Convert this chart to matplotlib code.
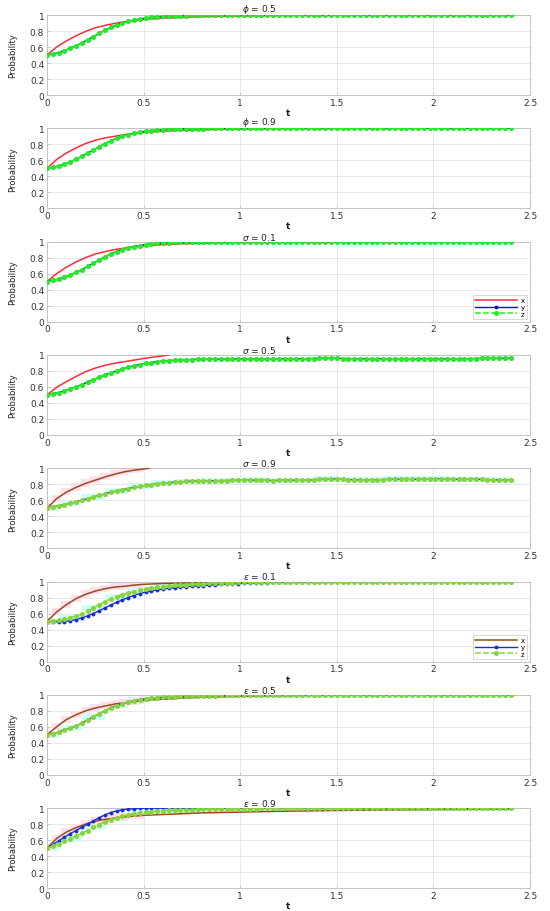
import numpy as np
import matplotlib
matplotlib.use("Agg")
import matplotlib.pyplot as plt

plt.rcParams['font.family'] = ['DejaVu Sans']

# ---------------- data ----------------
titles = [r'$\phi$ = 0.5', r'$\phi$ = 0.9', r'$\sigma$ = 0.1', r'$\sigma$ = 0.5',
          r'$\sigma$ = 0.9', r'$\varepsilon$ = 0.1', r'$\varepsilon$ = 0.5', r'$\varepsilon$ = 0.9']
xticks = [0, 0.5, 1, 1.5, 2, 2.5]
xticklabels = ['0', '0.5', '1', '1.5', '2', '2.5']
yticks = [0, 0.2, 0.4, 0.6, 0.8, 1]
yticklabels = ['0', '0.2', '0.4', '0.6', '0.8', '1']

# time grid of the marker series (step 0.03)
t = np.round(np.arange(81) * 0.03, 2)

# time grids of the x lines
tx_full = [0, .05, .1, .15, .2, .25, .3, .35, .4, .45, .5, .6, .7, .8, .9, 1.0,
           1.2, 1.4, 1.6, 1.8, 2.0, 2.2, 2.4]
tx_p4 = [0, .05, .1, .15, .2, .25, .3, .35, .4, .45, .5, .55, .6, .63]
tx_p5 = [0, .05, .1, .15, .2, .25, .3, .35, .4, .45, .5, .53]

x_p1 = [.5, .6, .675, .74, .795, .84, .87, .895, .915, .93, .945, .96, .97, .978, .984, .988,
        .993, .996, .998, .999, 1, 1, 1]
x_p2 = [.5, .61, .69, .755, .81, .85, .88, .9, .92, .935, .95, .965, .975, .982, .987, .99,
        .995, .997, .999, 1, 1, 1, 1]
x_p3 = [.5, .6, .68, .745, .8, .845, .875, .9, .918, .932, .947, .962, .972, .98, .985, .989,
        .994, .997, .998, .999, 1, 1, 1]
x_p4 = [.5, .595, .665, .73, .79, .835, .87, .895, .915, .935, .955, .972, .988, 1.0]
x_p5 = [.5, .62, .70, .76, .81, .85, .89, .925, .955, .975, .99, 1.0]
x_p6 = [.5, .62, .71, .785, .84, .88, .91, .93, .94, .955, .965, .975, .98, .985, .988, .99,
        .994, .997, .998, .999, 1, 1, 1]
x_p7 = [.5, .6, .69, .75, .80, .835, .86, .885, .90, .915, .93, .945, .96, .97, .975, .98,
        .988, .993, .996, .998, .999, 1, 1]
x_p8 = [.5, .62, .70, .755, .80, .835, .86, .875, .89, .90, .91, .92, .93, .94, .945, .95,
        .96, .967, .973, .978, .982, .985, .988]

z_p1 = [.500, .515, .530, .555, .585, .615, .650, .690, .730, .770,
        .810, .845, .875, .900, .920, .937, .950, .961, .970, .977,
        .982, .986, .989, .991, .993, .995, .996, .997, .998, .998,
        .999, 1, 1, 1, 1, 1, 1, 1, 1, 1,
        1, 1, 1, 1, 1, 1, 1, 1, 1, 1,
        1, 1, 1, 1, 1, 1, 1, 1, 1, 1,
        1, 1, 1, 1, 1, 1, 1, 1, 1, 1,
        1, 1, 1, 1, 1, 1, 1, 1, 1, 1, 1]
z_p2 = [.500, .513, .528, .552, .582, .613, .648, .688, .728, .768,
        .808, .843, .874, .899, .920, .937, .951, .962, .971, .978,
        .983, .987, .990, .992, .994, .995, .996, .997, .998, .999,
        .999, 1, 1, 1, 1, 1, 1, 1, 1, 1,
        1, 1, 1, 1, 1, 1, 1, 1, 1, 1,
        1, 1, 1, 1, 1, 1, 1, 1, 1, 1,
        1, 1, 1, 1, 1, 1, 1, 1, 1, 1,
        1, 1, 1, 1, 1, 1, 1, 1, 1, 1, 1]
z_p3 = [.500, .514, .530, .554, .584, .615, .650, .690, .730, .770,
        .810, .845, .876, .901, .921, .938, .951, .962, .971, .978,
        .983, .987, .990, .992, .994, .995, .996, .997, .998, .999,
        .999, 1, 1, 1, 1, 1, 1, 1, 1, 1,
        1, 1, 1, 1, 1, 1, 1, 1, 1, 1,
        1, 1, 1, 1, 1, 1, 1, 1, 1, 1,
        1, 1, 1, 1, 1, 1, 1, 1, 1, 1,
        1, 1, 1, 1, 1, 1, 1, 1, 1, 1, 1]
z_p4 = [.500, .515, .530, .550, .575, .600, .630, .660, .690, .720,
        .750, .775, .800, .825, .845, .865, .880, .895, .905, .915,
        .922, .928, .933, .937, .940, .942, .944, .945, .946, .947,
        .948, .948, .949, .950, .950, .951, .951, .950, .950, .951,
        .952, .952, .951, .950, .951, .953, .955, .957, .958, .958,
        .957, .955, .953, .952, .951, .950, .950, .951, .952, .953,
        .953, .952, .951, .951, .952, .953, .953, .952, .951, .950,
        .950, .951, .952, .953, .955, .957, .958, .958, .957, .957, .958]
z_p5 = [.500, .515, .530, .545, .560, .580, .600, .620, .640, .660,
        .680, .700, .715, .730, .745, .760, .775, .785, .795, .805,
        .812, .818, .824, .830, .834, .837, .840, .842, .843, .844,
        .845, .846, .847, .848, .849, .850, .850, .849, .847, .846,
        .848, .850, .850, .849, .848, .850, .855, .862, .866, .868,
        .866, .862, .858, .855, .853, .852, .853, .855, .858, .860,
        .862, .862, .860, .860, .862, .865, .868, .870, .868, .865,
        .862, .860, .860, .862, .862, .860, .857, .855, .853, .852, .852]
z_p6 = [.500, .505, .513, .527, .545, .567, .595, .630, .670, .710,
        .750, .780, .810, .835, .855, .875, .892, .905, .917, .928,
        .937, .945, .951, .957, .962, .966, .970, .974, .977, .980,
        .983, .985, .987, .989, .991, .992, .993, .994, .995, .996,
        .997, .997, .998, .998, .999, .999, 1, 1, 1, 1,
        1, 1, 1, 1, 1, 1, 1, 1, 1, 1,
        1, 1, 1, 1, 1, 1, 1, 1, 1, 1,
        1, 1, 1, 1, 1, 1, 1, 1, 1, 1, 1]
y_p6 = [.500, .498, .498, .500, .510, .525, .545, .570, .600, .635,
        .670, .705, .740, .770, .800, .825, .850, .868, .882, .895,
        .905, .914, .922, .929, .935, .940, .945, .950, .955, .960,
        .964, .968, .972, .975, .978, .980, .983, .985, .987, .989,
        .990, .991, .992, .993, .994, .995, .996, .997, .998, .999,
        1, 1, 1, 1, 1, 1, 1, 1, 1, 1,
        1, 1, 1, 1, 1, 1, 1, 1, 1, 1,
        1, 1, 1, 1, 1, 1, 1, 1, 1, 1, 1]
z_p7 = [.500, .515, .535, .560, .585, .610, .645, .685, .725, .765,
        .800, .835, .865, .890, .910, .925, .940, .950, .958, .964,
        .969, .973, .976, .979, .982, .984, .986, .988, .990, .991,
        .993, .994, .995, .996, .997, .998, .998, .999, .999, 1,
        1, 1, 1, 1, 1, 1, 1, 1, 1, 1,
        1, 1, 1, 1, 1, 1, 1, 1, 1, 1,
        1, 1, 1, 1, 1, 1, 1, 1, 1, 1,
        1, 1, 1, 1, 1, 1, 1, 1, 1, 1, 1]
y_p8 = [.500, .545, .590, .635, .680, .720, .760, .800, .840, .880,
        .915, .945, .965, .978, .987, .992, .996, .998, .999, 1,
        1, 1, 1, 1, 1, 1, 1, 1, 1, 1,
        1, 1, 1, 1, 1, 1, 1, 1, 1, 1,
        1, 1, 1, 1, 1, 1, 1, 1, 1, 1,
        1, 1, 1, 1, 1, 1, 1, 1, 1, 1,
        1, 1, 1, 1, 1, 1, 1, 1, 1, 1,
        1, 1, 1, 1, 1, 1, 1, 1, 1, 1, 1]
z_p8 = [.500, .525, .555, .585, .615, .650, .685, .720, .760, .795,
        .830, .855, .880, .900, .915, .930, .940, .950, .957, .963,
        .968, .972, .975, .978, .980, .982, .984, .986, .987, .988,
        .989, .990, .991, .992, .993, .994, .995, .996, .997, .998,
        .999, 1, 1, 1, 1, 1, 1, 1, 1, 1,
        1, 1, 1, 1, 1, 1, 1, 1, 1, 1,
        1, 1, 1, 1, 1, 1, 1, 1, 1, 1,
        1, 1, 1, 1, 1, 1, 1, 1, 1, 1, 1]

panels = [
    dict(tx=tx_full, x=x_p1, y=z_p1, z=z_p1, style=0, legend=False),
    dict(tx=tx_full, x=x_p2, y=z_p2, z=z_p2, style=0, legend=False),
    dict(tx=tx_full, x=x_p3, y=z_p3, z=z_p3, style=0, legend=True),
    dict(tx=tx_p4, x=x_p4, y=z_p4, z=z_p4, style=0, legend=False),
    dict(tx=tx_p5, x=x_p5, y=z_p5, z=z_p5, style=1, legend=False),
    dict(tx=tx_full, x=x_p6, y=y_p6, z=z_p6, style=1, legend=True),
    dict(tx=tx_full, x=x_p7, y=z_p7, z=z_p7, style=1, legend=False),
    dict(tx=tx_full, x=x_p8, y=y_p8, z=z_p8, style=1, legend=False),
]

colors = [
    dict(x='#ff2a3a', y='#1010ee', z='#22ee22'),
    dict(x='#9a4a22', y='#1a2ed8', z='#86d63a'),
]

# ---------------- figure ----------------
W, H = 550, 912
fig = plt.figure(figsize=(W / 100, H / 100), dpi=100)
fig.patch.set_facecolor('white')

left_px, right_px = 47, 530
top0, step, hpx = 16, 113.3, 80

for i, p in enumerate(panels):
    top = top0 + i * step
    ax = fig.add_axes([left_px / W, 1 - (top + hpx) / H, (right_px - left_px) / W, hpx / H])
    c = colors[p['style']]
    tt = t[:len(p['z'])]
    ty = t[:len(p['y'])]

    if p['style'] == 1:
        zc = np.array(p['z'])[::4]
        tc = tt[::4]
        ax.fill_between(tc, zc - 0.035, np.minimum(zc + 0.035, 1.04), step='mid',
                        color='#ccfff5', lw=0, zorder=1)
        xa = np.array(p['x'])
        txa = np.array(p['tx'])
        m = txa <= 0.5
        ax.fill_between(txa[m], xa[m] - 0.04, xa[m] + 0.05, step='mid',
                        color='#ffe0ea', lw=0, zorder=1)

    ax.plot(p['tx'], p['x'], '-', color=c['x'], lw=1.1, zorder=3, label='x')
    ax.plot(ty, p['y'], '-', color=c['y'], lw=1.0, marker='.', ms=3.5, zorder=4, label='y')
    ax.plot(tt, p['z'], '--', color=c['z'], lw=1.1, marker='o', ms=2.6, zorder=5, label='z')

    ax.set_xlim(0, 2.5)
    ax.set_ylim(0, 1)
    ax.set_xticks(xticks)
    ax.set_xticklabels(xticklabels)
    ax.set_yticks(yticks)
    ax.set_yticklabels(yticklabels)
    ax.grid(True, color='#e4e4e4', lw=0.6)
    ax.set_axisbelow(True)
    for s in ax.spines.values():
        s.set_color('#bdbdbd')
        s.set_linewidth(0.6)
    ax.tick_params(direction='in', length=2, width=0.5, colors='#bdbdbd',
                   labelcolor='#333333', labelsize=6.5, pad=2)
    ax.set_xlabel('t', fontsize=6.5, labelpad=1, fontweight='bold', color='#222222')
    ax.set_ylabel('Probability', fontsize=6, labelpad=9, color='#222222')
    ax.set_title(titles[i], fontsize=6.5, pad=0.5, x=0.44, color='#222222')

    if p['legend']:
        leg = ax.legend(loc='lower right', fontsize=5, handlelength=6, frameon=True,
                        borderpad=0.3, labelspacing=0.1, handletextpad=0.6,
                        fancybox=False, edgecolor='#bdbdbd', borderaxespad=0.4)
        leg.get_frame().set_linewidth(0.5)

fig.savefig('out.png', dpi=100)
